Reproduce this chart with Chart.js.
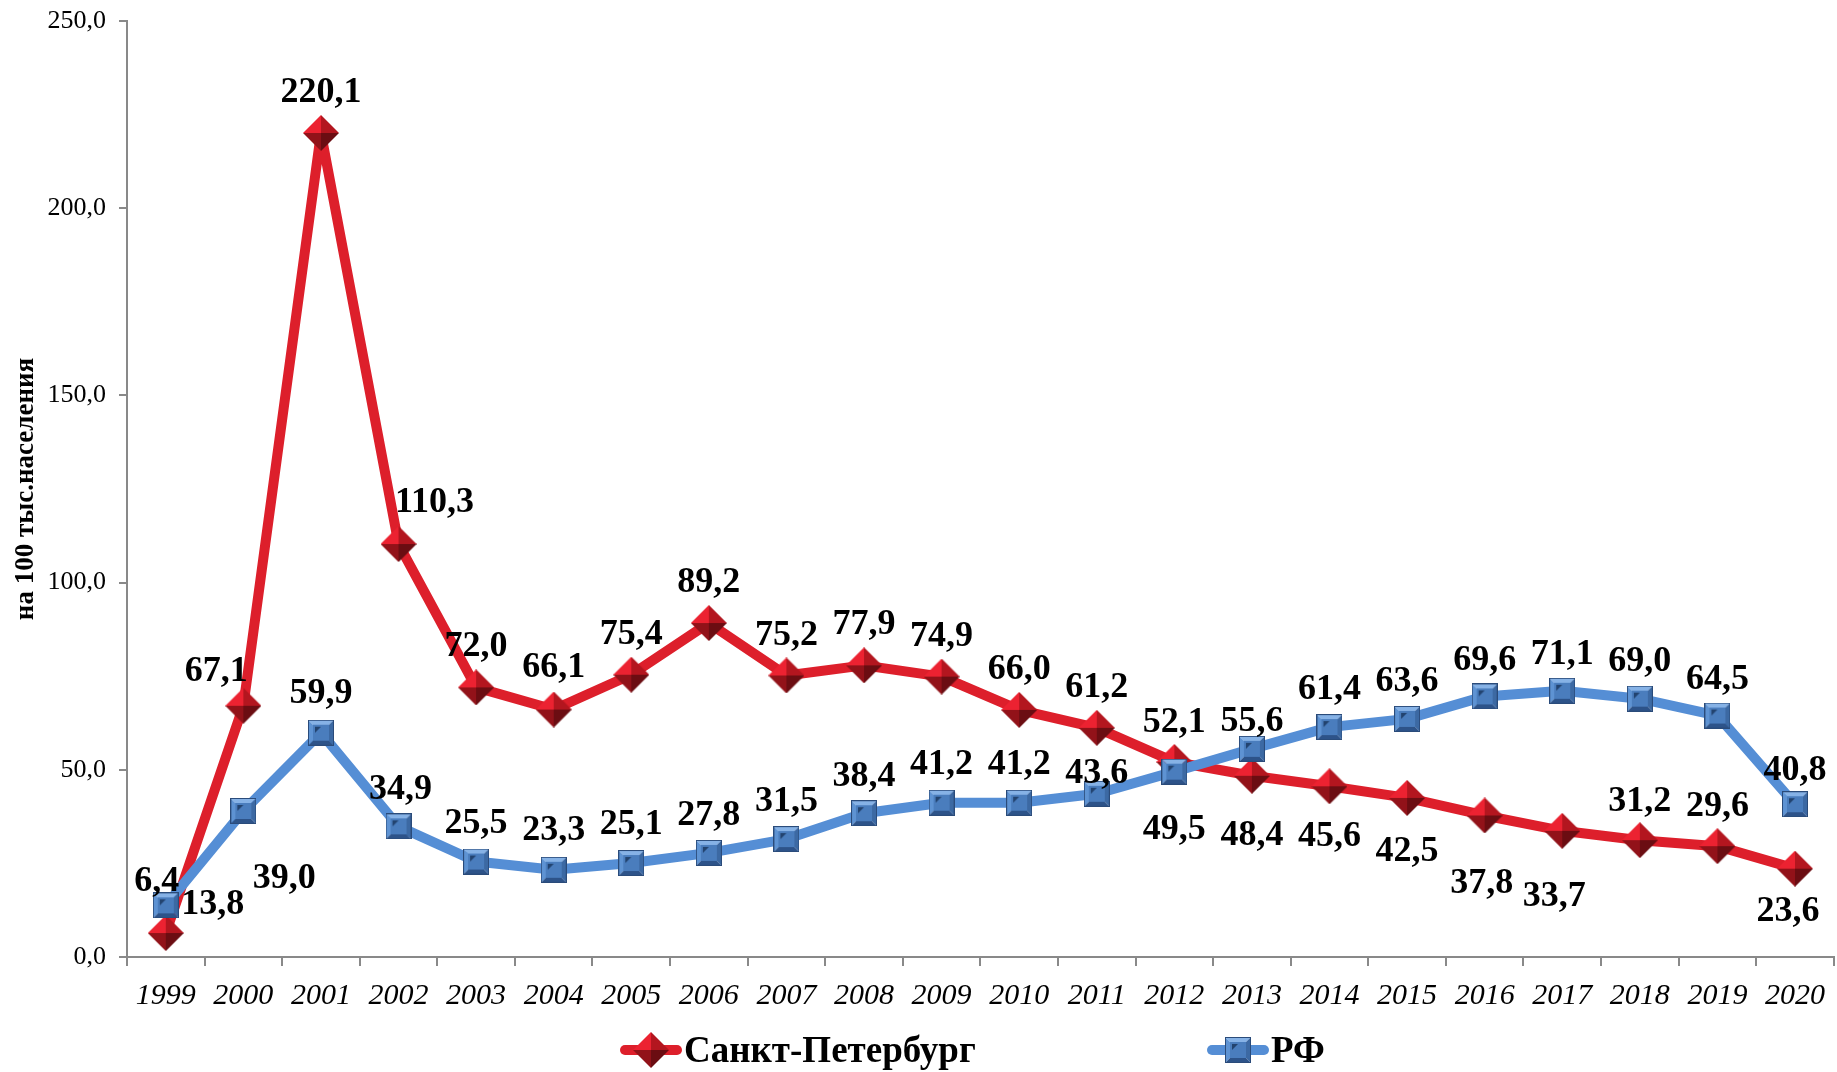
<!DOCTYPE html>
<html>
<head>
<meta charset="utf-8">
<script src="https://cdn.jsdelivr.net/npm/chart.js@4/dist/chart.umd.min.js"></script>
<style>
  html, body { margin: 0; padding: 0; background: #fff; }
  #wrap { width: 1837px; height: 1072px; }
</style>
</head>
<body>
<div id="wrap"><canvas id="chart"></canvas></div>
<script>
// data
const years = ['1999', '2000', '2001', '2002', '2003', '2004', '2005', '2006', '2007', '2008', '2009',
  '2010', '2011', '2012', '2013', '2014', '2015', '2016', '2017', '2018', '2019', '2020'];
const spbValues = [6.4, 67.1, 220.1, 110.3, 72.0, 66.1, 75.4, 89.2, 75.2, 77.9, 74.9,
  66.0, 61.2, 52.1, 48.4, 45.6, 42.5, 37.8, 33.7, 31.2, 29.6, 23.6];
const rfValues = [13.8, 39.0, 59.9, 34.9, 25.5, 23.3, 25.1, 27.8, 31.5, 38.4, 41.2,
  41.2, 43.6, 49.5, 55.6, 61.4, 63.6, 69.6, 71.1, 69.0, 64.5, 40.8];
const yTickValues = [0, 50, 100, 150, 200, 250];
const seriesNames = ['Санкт-Петербург', 'РФ'];
const yAxisTitle = 'на 100 тыс.населения';

// where each value label sits relative to its point (px)
const spbLabelOffsets = [[-9, -51], [-27, -34], [0, -40], [36, -41], [0, -41], [0, -42], [0, -40], [0, -40],
  [0, -40], [0, -41], [0, -40], [0, -40], [0, -40], [0, -39], [0, 60], [0, 50], [0, 54], [-3, 68],
  [-8, 66], [0, -38], [0, -39], [-7, 43]];
const rfLabelOffsets = [[47, -1], [41, 68], [0, -39], [2, -37], [0, -38], [0, -39], [0, -38], [0, -37],
  [0, -37], [0, -37], [0, -38], [0, -38], [0, -20], [0, 58], [0, -27], [0, -37], [0, -37], [0, -36],
  [0, -36], [0, -37], [0, -36], [0, -34]];

const RED = '#dd1f2b';
const BLUE = '#558ed5';
const SERIF = '"Liberation Serif", "Times New Roman", serif';

function poly(g, pts, col) {
  g.beginPath();
  g.moveTo(pts[0][0], pts[0][1]);
  pts.slice(1).forEach(p => g.lineTo(p[0], p[1]));
  g.closePath();
  g.fillStyle = col;
  g.fill();
}

// bevelled diamond marker
function makeDiamond(s) {
  const c = document.createElement('canvas');
  c.width = c.height = s;
  const g = c.getContext('2d');
  const h = s / 2;
  poly(g, [[0, h], [h, 0], [h, h]], '#ec2231');
  poly(g, [[h, 0], [s, h], [h, h]], '#b3161f');
  poly(g, [[0, h], [h, h], [h, s]], '#921219');
  poly(g, [[h, h], [s, h], [h, s]], '#6b0d12');
  return c;
}

// bevelled square marker
function makeSquare(s) {
  const c = document.createElement('canvas');
  c.width = c.height = s;
  const g = c.getContext('2d');
  const b = 5;
  poly(g, [[0, 0], [s, 0], [s - b, b], [b, b]], '#86b2e6');
  poly(g, [[0, 0], [b, b], [b, s - b], [0, s]], '#5e93d3');
  poly(g, [[s, 0], [s, s], [s - b, s - b], [s - b, b]], '#3c69a3');
  poly(g, [[0, s], [b, s - b], [s - b, s - b], [s, s]], '#2d5389');
  g.fillStyle = '#4a7dbd';
  g.fillRect(b, b, s - 2 * b, s - 2 * b);
  poly(g, [[b + 2, b + 2], [b + 8, b + 2], [b + 2, b + 8]], '#22436f');
  g.strokeStyle = '#2a4b7a';
  g.lineWidth = 1;
  g.strokeRect(0.5, 0.5, s - 1, s - 1);
  return c;
}

const diamond = makeDiamond(36);
const square = makeSquare(26);

const valueLabels = {
  id: 'valueLabels',
  afterDatasetsDraw(chart) {
    const ctx = chart.ctx;
    ctx.save();
    ctx.font = 'bold 36px ' + SERIF;
    ctx.fillStyle = '#000';
    ctx.textAlign = 'center';
    ctx.textBaseline = 'middle';
    chart.data.datasets.forEach((ds, di) => {
      const meta = chart.getDatasetMeta(di);
      meta.data.forEach((pt, i) => {
        const off = ds.labelOffsets[i];
        ctx.fillText(ds.data[i].toFixed(1).replace('.', ','), pt.x + off[0], pt.y + off[1]);
      });
    });
    ctx.restore();
  }
};

const bottomLegend = {
  id: 'bottomLegend',
  afterDraw(chart) {
    const ctx = chart.ctx;
    const y = 1050;
    const items = [
      { x: 620, text: seriesNames[0], color: RED, img: diamond },
      { x: 1207, text: seriesNames[1], color: BLUE, img: square }
    ];
    ctx.save();
    ctx.font = 'bold 37px ' + SERIF;
    ctx.textBaseline = 'middle';
    ctx.textAlign = 'left';
    items.forEach(it => {
      ctx.strokeStyle = it.color;
      ctx.lineWidth = 10;
      ctx.lineCap = 'round';
      ctx.beginPath();
      ctx.moveTo(it.x + 5, y);
      ctx.lineTo(it.x + 57, y);
      ctx.stroke();
      ctx.drawImage(it.img, it.x + 31 - it.img.width / 2, y - it.img.height / 2);
      ctx.fillStyle = '#000';
      ctx.fillText(it.text, it.x + 64, y + 2);
    });
    ctx.restore();
  }
};

const ctx = document.getElementById('chart').getContext('2d');

new Chart(ctx, {
  type: 'line',
  data: {
    labels: years,
    datasets: [
      {
        label: seriesNames[0],
        data: spbValues,
        labelOffsets: spbLabelOffsets,
        borderColor: RED,
        backgroundColor: RED,
        borderWidth: 10,
        borderJoinStyle: 'round',
        pointStyle: diamond,
        pointRadius: 18,
        tension: 0,
        clip: false,
        order: 1
      },
      {
        label: seriesNames[1],
        data: rfValues,
        labelOffsets: rfLabelOffsets,
        borderColor: BLUE,
        backgroundColor: BLUE,
        borderWidth: 10,
        borderJoinStyle: 'round',
        pointStyle: square,
        pointRadius: 13,
        tension: 0,
        clip: false,
        order: 0
      }
    ]
  },
  options: {
    responsive: true,
    maintainAspectRatio: false,
    animation: false,
    layout: { autoPadding: false, padding: { top: 21, right: 1, bottom: 45, left: 0 } },
    plugins: {
      legend: { display: false },
      tooltip: { enabled: false }
    },
    scales: {
      x: {
        offset: true,
        afterFit: s => { s.height = 70; },
        grid: { display: true, offset: true, drawOnChartArea: false, tickLength: 9, color: '#898989', lineWidth: 2 },
        border: { color: '#898989', width: 2 },
        ticks: {
          color: '#000',
          padding: 12,
          maxRotation: 0,
          autoSkip: false,
          font: { family: SERIF, size: 30, style: 'italic' }
        }
      },
      y: {
        min: yTickValues[0],
        max: yTickValues[yTickValues.length - 1],
        afterFit: s => { s.width = 127; },
        grid: { drawOnChartArea: false, tickLength: 8, color: '#898989', lineWidth: 2 },
        border: { color: '#898989', width: 2 },
        ticks: {
          stepSize: yTickValues[1] - yTickValues[0],
          color: '#000',
          padding: 13,
          font: { family: SERIF, size: 26, lineHeight: 0.6 },
          callback: v => v.toFixed(1).replace('.', ',')
        },
        title: {
          display: true,
          text: yAxisTitle,
          color: '#000',
          padding: { top: 10, bottom: 0 },
          font: { family: SERIF, size: 27, weight: 'bold' }
        }
      }
    }
  },
  plugins: [valueLabels, bottomLegend]
});
</script>
</body>
</html>
